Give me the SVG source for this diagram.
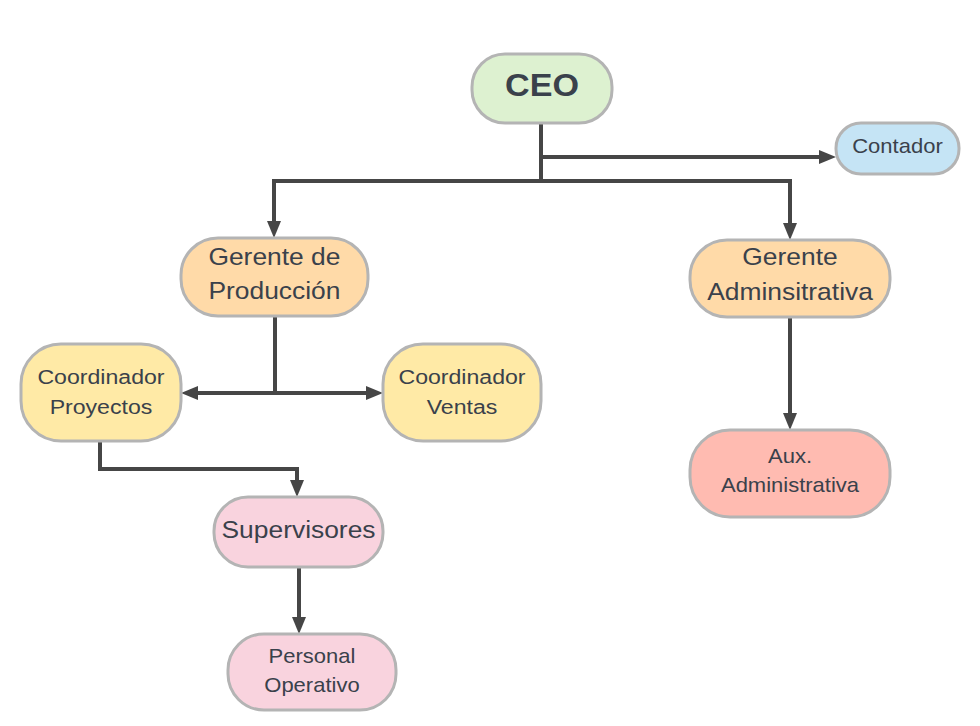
<svg xmlns="http://www.w3.org/2000/svg" width="980" height="726" viewBox="0 0 980 726">
<style>
.box{stroke:#b4b4b4;stroke-width:3}
.t{font-family:"Liberation Sans",Arial,sans-serif;fill:#3a414b;text-anchor:middle}
.c{fill:none;stroke:#464646;stroke-width:4}
</style>
<defs>
<marker id="ah" markerUnits="userSpaceOnUse" markerWidth="17" markerHeight="14" refX="0" refY="7" orient="auto-start-reverse">
<path d="M0,0 L17,7 L0,14 z" fill="#464646"/>
</marker>
</defs>
<rect width="980" height="726" fill="#ffffff"/>
<g id="connectors">
<path class="c" d="M541,123 V157 H819" marker-end="url(#ah)"/>
<path class="c" d="M541,123 V181 H274 V221" marker-end="url(#ah)"/>
<path class="c" d="M541,181 H790 V223" marker-end="url(#ah)"/>
<path class="c" d="M275,316 V393 H198" marker-end="url(#ah)"/>
<path class="c" d="M275,393 H366" marker-end="url(#ah)"/>
<path class="c" d="M100,441 V469 H297 V480" marker-end="url(#ah)"/>
<path class="c" d="M299,567 V617" marker-end="url(#ah)"/>
<path class="c" d="M790,317 V413" marker-end="url(#ah)"/>
</g>
<g id="ceo">
<rect class="box" x="472" y="54" width="140" height="69" rx="33" fill="#ddf1d0"/>
<text class="t" transform="scale(1.1,1)" x="492.7" y="96" font-size="31" font-weight="bold">CEO</text>
</g>
<g id="contador">
<rect class="box" x="836" y="123" width="123" height="51" rx="25" fill="#c5e4f5"/>
<text class="t" transform="scale(1.1,1)" x="815.9" y="153" font-size="20">Contador</text>
</g>
<g id="gerente-produccion">
<rect class="box" x="181" y="238" width="187" height="78" rx="37" fill="#ffdaa8"/>
<text class="t" transform="scale(1.1,1)" x="249.5" y="265" font-size="24">Gerente de</text>
<text class="t" transform="scale(1.1,1)" x="249.5" y="299" font-size="24">Producción</text>
</g>
<g id="gerente-administrativa">
<rect class="box" x="690" y="240" width="200" height="77" rx="37" fill="#ffdaa8"/>
<text class="t" transform="scale(1.1,1)" x="718.2" y="265" font-size="24">Gerente</text>
<text class="t" transform="scale(1.1,1)" x="718.2" y="300" font-size="24">Adminsitrativa</text>
</g>
<g id="coordinador-proyectos">
<rect class="box" x="21" y="344" width="160" height="97" rx="40" fill="#ffeaa6"/>
<text class="t" transform="scale(1.1,1)" x="91.8" y="384" font-size="21">Coordinador</text>
<text class="t" transform="scale(1.1,1)" x="91.8" y="414" font-size="21">Proyectos</text>
</g>
<g id="coordinador-ventas">
<rect class="box" x="383" y="344" width="158" height="97" rx="40" fill="#ffeaa6"/>
<text class="t" transform="scale(1.1,1)" x="420" y="384" font-size="21">Coordinador</text>
<text class="t" transform="scale(1.1,1)" x="420" y="414" font-size="21">Ventas</text>
</g>
<g id="aux-administrativa">
<rect class="box" x="690" y="430" width="200" height="87" rx="40" fill="#ffbbb1"/>
<text class="t" transform="scale(1.1,1)" x="718.2" y="463" font-size="20">Aux.</text>
<text class="t" transform="scale(1.1,1)" x="718.2" y="492" font-size="20">Administrativa</text>
</g>
<g id="supervisores">
<rect class="box" x="214" y="497" width="169" height="70" rx="34" fill="#f9d3de"/>
<text class="t" transform="scale(1.1,1)" x="271.4" y="538" font-size="24">Supervisores</text>
</g>
<g id="personal-operativo">
<rect class="box" x="228" y="634" width="168" height="76" rx="36" fill="#f9d3de"/>
<text class="t" transform="scale(1.1,1)" x="283.6" y="663" font-size="20">Personal</text>
<text class="t" transform="scale(1.1,1)" x="283.6" y="692" font-size="20">Operativo</text>
</g>
</svg>
